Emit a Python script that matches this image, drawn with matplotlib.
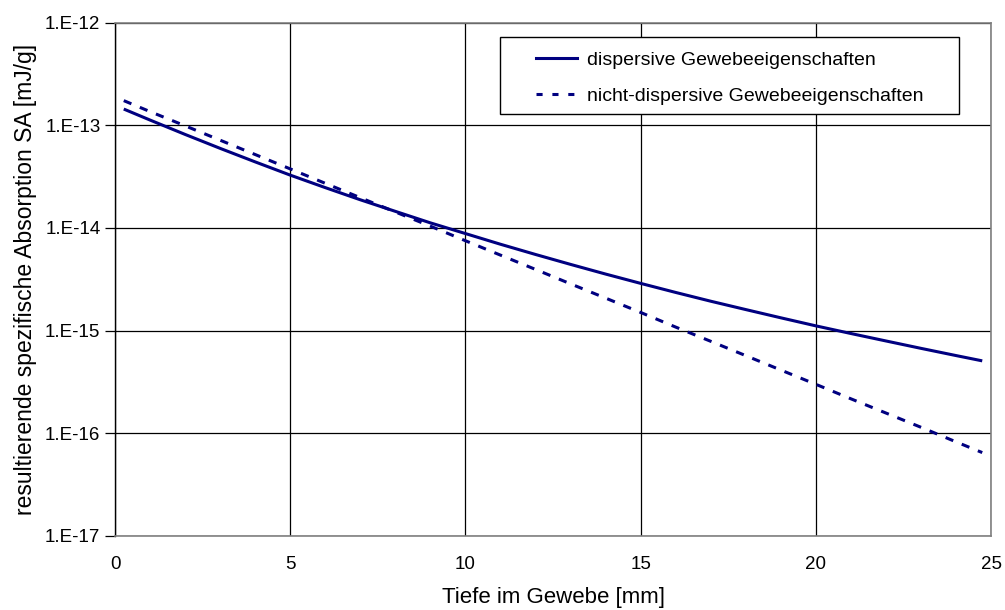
import matplotlib
matplotlib.use("Agg")
import matplotlib.pyplot as plt
from matplotlib.patches import Rectangle
from matplotlib.lines import Line2D
from matplotlib.ticker import FixedLocator, FixedFormatter, NullLocator

plt.rcParams['font.family'] = ['Liberation Sans', 'DejaVu Sans']

# Tiefe im Gewebe [mm]
depth_mm = [0.25, 1, 2, 3, 4, 5, 6, 7, 8, 9, 10, 11, 12, 13, 14, 15,
            16, 17, 18, 19, 20, 21, 22, 23, 24, 24.75]

# spezifische Absorption [mJ/g], dispersive Gewebeeigenschaften
sa_dispersive = [1.44e-13, 1.125e-13, 8.15e-14, 5.96e-14, 4.40e-14, 3.27e-14,
                 2.47e-14, 1.88e-14, 1.45e-14, 1.12e-14, 8.81e-15, 6.93e-15,
                 5.51e-15, 4.41e-15, 3.55e-15, 2.88e-15, 2.35e-15, 1.93e-15,
                 1.60e-15, 1.33e-15, 1.11e-15, 9.35e-16, 7.91e-16, 6.70e-16,
                 5.70e-16, 5.06e-16]

# spezifische Absorption [mJ/g], nicht-dispersive Gewebeeigenschaften
sa_nondispersive = [1.74e-13, 1.36e-13, 9.89e-14, 7.16e-14, 5.19e-14, 3.76e-14,
                    2.72e-14, 1.97e-14, 1.43e-14, 1.04e-14, 7.50e-15, 5.43e-15,
                    3.94e-15, 2.85e-15, 2.07e-15, 1.50e-15, 1.08e-15, 7.85e-16,
                    5.69e-16, 4.12e-16, 2.99e-16, 2.16e-16, 1.57e-16, 1.14e-16,
                    8.22e-17, 6.46e-17]

x_ticks = [0, 5, 10, 15, 20, 25]
y_ticks = [1e-17, 1e-16, 1e-15, 1e-14, 1e-13, 1e-12]
y_tick_labels = ["1.E-17", "1.E-16", "1.E-15", "1.E-14", "1.E-13", "1.E-12"]

series_labels = ["dispersive Gewebeeigenschaften",
                 "nicht-dispersive Gewebeeigenschaften"]

W, H = 1005, 610
fig = plt.figure(figsize=(W / 100, H / 100), dpi=100)
ax = fig.add_axes([115 / W, 1 - 535.7 / H, (991 - 115) / W, (535.7 - 22.7) / H])

navy = "#000080"
ax.plot(depth_mm, sa_dispersive, color=navy, lw=2.2, solid_capstyle="butt")
ax.plot(depth_mm, sa_nondispersive, color=navy, lw=2.2,
        dashes=(2.7, 3.0), dash_capstyle="butt")

ax.set_yscale("log")
ax.set_xlim(0, 25)
ax.set_ylim(1e-17, 1e-12)

ax.xaxis.set_major_locator(FixedLocator(x_ticks))
ax.xaxis.set_minor_locator(NullLocator())
ax.yaxis.set_major_locator(FixedLocator(y_ticks))
ax.yaxis.set_major_formatter(FixedFormatter(y_tick_labels))
ax.yaxis.set_minor_locator(NullLocator())

ax.grid(True, which="major", color="black", lw=0.9)
ax.set_axisbelow(True)

ax.tick_params(axis="x", length=0, pad=14.5, labelsize=13.5)
ax.tick_params(axis="y", length=7, width=0.9, pad=3.5, labelsize=13.5,
               direction="out", color="black")

for side in ("top", "right", "bottom"):
    ax.spines[side].set_color("#808080")
    ax.spines[side].set_linewidth(1.2)
ax.spines["left"].set_color("black")
ax.spines["left"].set_linewidth(1.0)

ax.set_xlabel("Tiefe im Gewebe [mm]", fontsize=16, labelpad=10.5)
ax.set_ylabel("resultierende spezifische Absorption SA [mJ/g]", fontsize=16.5,
              labelpad=6)

# legend box
fig.patches.append(Rectangle((500 / W, 1 - 114 / H), 459 / W, 77 / H,
                             transform=fig.transFigure, facecolor="white",
                             edgecolor="black", lw=1.0, zorder=5))
handles = [Line2D([], [], color=navy, lw=2.2),
           Line2D([], [], color=navy, lw=2.2, dashes=(2.0, 3.2))]
leg = fig.legend(handles, series_labels, loc="upper left",
                 bbox_to_anchor=(522 / W, 1 - 38 / H), frameon=False,
                 fontsize=14, handlelength=2.15, handletextpad=0.5,
                 labelspacing=0.95, borderpad=0.2)
leg.set_zorder(6)

fig.savefig("out.png", dpi=100)
